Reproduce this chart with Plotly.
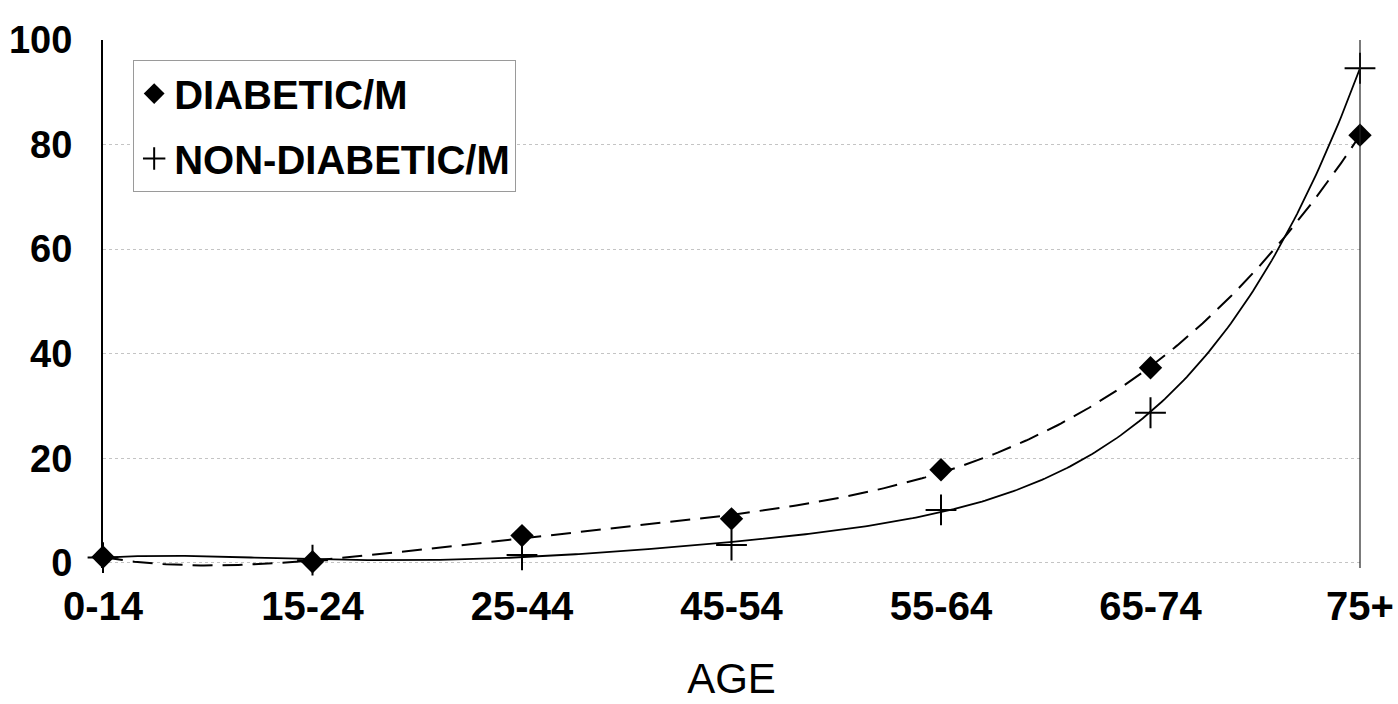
import numpy as np
import plotly.graph_objects as go

# Age groups on the horizontal axis
age_groups = ["0-14", "15-24", "25-44", "45-54", "55-64", "65-74", "75+"]

# Rates per age group
diabetic_m = [1.1, 0.2, 5.2, 8.4, 17.8, 37.3, 81.8]
non_diabetic_m = [1.0, 0.5, 1.5, 3.4, 10.1, 28.7, 94.6]

y_ticks = [0, 20, 40, 60, 80, 100]

xi = np.arange(len(age_groups))
FONT = "Liberation Sans, Arial, sans-serif"


def poly_trend(values, order=5, samples=400):
    """Polynomial trendline (least squares) evaluated on a fine grid."""
    coeffs = np.polyfit(xi, values, order)
    xs = np.linspace(xi[0], xi[-1], samples)
    return xs, np.polyval(coeffs, xs)


fig = go.Figure()

# Trendlines
xs_d, ys_d = poly_trend(diabetic_m)
xs_n, ys_n = poly_trend(non_diabetic_m)
fig.add_trace(go.Scatter(
    x=xs_d, y=ys_d, mode="lines",
    line=dict(color="black", width=2, dash="20px,10px"),
    showlegend=False, hoverinfo="skip",
))
fig.add_trace(go.Scatter(
    x=xs_n, y=ys_n, mode="lines",
    line=dict(color="black", width=1.8),
    showlegend=False, hoverinfo="skip",
))

# Point markers (these carry the legend entries)
fig.add_trace(go.Scatter(
    x=xi, y=non_diabetic_m, mode="markers", name="NON-DIABETIC/M",
    marker=dict(symbol="cross-thin", size=22, color="black",
                line=dict(color="black", width=2)),
    cliponaxis=False, legendgroup="b", legendrank=2,
))
fig.add_trace(go.Scatter(
    x=xi, y=diabetic_m, mode="markers", name="DIABETIC/M",
    marker=dict(symbol="diamond", size=18, color="black",
                line=dict(width=0)),
    cliponaxis=False, legendgroup="a", legendrank=1,
))

# Right-hand frame of the plot area
fig.add_shape(type="line", xref="paper", yref="paper", x0=1, x1=1, y0=0, y1=1,
              line=dict(color="#222222", width=1.2))

fig.update_layout(
    width=1398, height=704,
    margin=dict(l=103, r=38, t=40, b=136),
    paper_bgcolor="white", plot_bgcolor="white",
    font=dict(family=FONT, size=38, color="black", weight="bold"),
    showlegend=True,
    legend=dict(
        x=0.024, y=0.962, xanchor="left", yanchor="top",
        bgcolor="white", bordercolor="#9a9a9a", borderwidth=1,
        font=dict(family=FONT, size=40, color="black", weight="bold"),
        traceorder="grouped", tracegroupgap=10, itemwidth=30,
    ),
    xaxis=dict(
        range=[0, 6], tickmode="array", tickvals=list(xi), ticktext=age_groups,
        showgrid=False, zeroline=False, showline=False, ticks="",
        ticklabelstandoff=11, automargin=False,
        title=dict(text="AGE", font=dict(family=FONT, size=42, weight="normal"),
                   standoff=36),
        tickfont=dict(family=FONT, size=40, weight="bold"),
    ),
    yaxis=dict(
        range=[-1, 100], tickmode="array", tickvals=y_ticks,
        showgrid=True, gridcolor="#c4c4c4", griddash="dot", gridwidth=1,
        zeroline=False, showline=True, linecolor="black", linewidth=2,
        ticks="", ticklabelstandoff=21, automargin=False,
        tickfont=dict(family=FONT, size=38, weight="bold"),
    ),
)

fig.write_html("out.html")
